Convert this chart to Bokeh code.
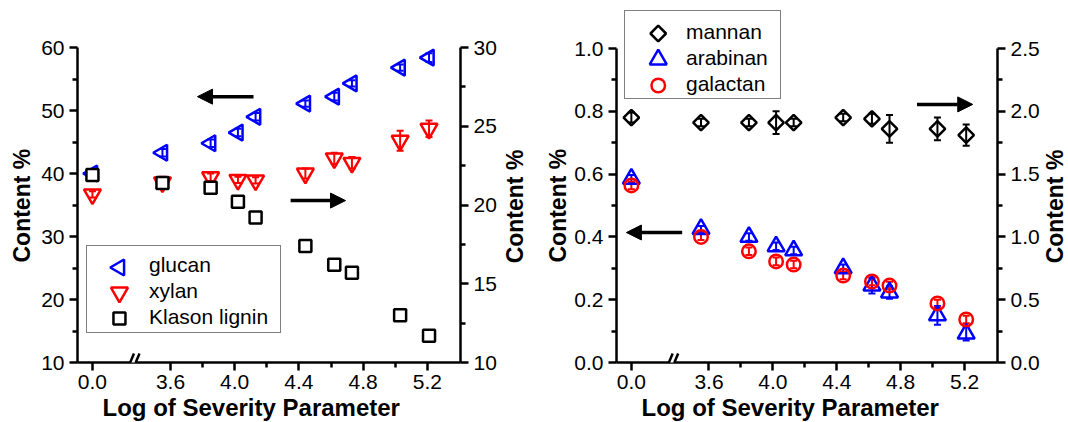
import math
from bokeh.plotting import figure
from bokeh.models import (Range1d, LinearAxis, FixedTicker, ColumnDataSource, Whisker, TeeHead,
                          Arrow, NormalHead, Legend, LegendItem, Title, Label,
                          NumeralTickFormatter)
from bokeh.layouts import row
from bokeh.embed import file_html
from bokeh.resources import INLINE

# ---------------- data ----------------
severity = [0.0, 3.55, 3.85, 4.02, 4.13, 4.44, 4.62, 4.73, 5.03, 5.21]

glucan = [40.0, 43.3, 44.8, 46.5, 49.0, 51.1, 52.2, 54.3, 56.8, 58.4]
glucan_err = [0.5, 0.6, 0.6, 0.6, 0.6, 0.5, 0.6, 0.5, 0.5, 0.7]
xylan = [36.7, 38.6, 39.4, 39.0, 38.9, 40.0, 42.4, 41.7, 45.2, 47.1]
xylan_err = [0.5, 0.9, 0.6, 0.5, 0.5, 0.8, 0.9, 0.9, 1.6, 1.3]
lignin = [21.9, 21.4, 21.1, 20.2, 19.2, 17.4, 16.2, 15.7, 13.0, 11.7]
lignin_err = [0.3, 0.3, 0.3, 0.2, 0.2, 0.2, 0.3, 0.3, 0.3, 0.2]

mannan = [1.95, 1.91, 1.91, 1.91, 1.91, 1.95, 1.94, 1.86, 1.86, 1.81]
mannan_err = [0.04, 0.03, 0.03, 0.09, 0.03, 0.03, 0.04, 0.11, 0.09, 0.085]
arabinan = [0.585, 0.425, 0.400, 0.370, 0.357, 0.300, 0.245, 0.223, 0.150, 0.092]
arabinan_err = [0.012, 0.010, 0.012, 0.012, 0.012, 0.012, 0.025, 0.020, 0.030, 0.022]
galactan = [0.564, 0.400, 0.354, 0.322, 0.312, 0.277, 0.258, 0.245, 0.188, 0.137]
galactan_err = [0.012, 0.010, 0.012, 0.012, 0.012, 0.012, 0.012, 0.012, 0.012, 0.012]

x_tick_values = [0.0, 3.6, 4.0, 4.4, 4.8, 5.2]
x_tick_labels = ["0.0", "3.6", "4.0", "4.4", "4.8", "5.2"]
x_minor = [3.8, 4.2, 4.6, 5.0]

# broken axis: the untreated point (0.0) is drawn left of the break
X0_POS = 3.114
BREAK_POS = 3.369


def to_plot_x(v):
    return X0_POS if v == 0 else v


xp = [to_plot_x(v) for v in severity]
xt = [to_plot_x(v) for v in x_tick_values]

FONT = "Liberation Sans"
BLUE = "#0000ff"
RED = "#ff0000"
BLACK = "#000000"
H = 423
TOP = 10                  # frame top (frames extend above the axes, see bounds)
BOTTOM = 61
FRAME_BOTTOM_PX = H - BOTTOM - 0   # 362
PX_X = 1 / 160.5          # data units per pixel along x


def px_to_x(px, px36):
    return 3.6 + (px - px36) * PX_X


def style_axis(ax, major, minor, fmt=None, overrides=None, standoff=5):
    ax.ticker = FixedTicker(ticks=major, minor_ticks=minor)
    if fmt is not None:
        ax.formatter = fmt
    if overrides is not None:
        ax.major_label_overrides = overrides
    ax.axis_line_width = 2.5
    ax.axis_line_color = BLACK
    ax.major_tick_line_width = 2.5
    ax.minor_tick_line_width = 2.5
    ax.major_tick_in = 0
    ax.major_tick_out = 8
    ax.minor_tick_in = 0
    ax.minor_tick_out = 5
    ax.major_label_text_font = FONT
    ax.major_label_text_font_size = "21px"
    ax.major_label_text_color = BLACK
    ax.major_label_standoff = standoff


def make_fig(width, left, right, y0, y1, ry0, ry1):
    p = figure(width=width, height=H, x_range=Range1d(3.021, 5.406),
               y_range=Range1d(y0, y1), output_backend="svg", toolbar_location=None,
               min_border_left=left, min_border_right=right, min_border_top=TOP,
               min_border_bottom=BOTTOM, x_axis_location=None, y_axis_location=None)
    p.outline_line_color = None
    p.background_fill_color = "white"
    p.border_fill_color = "white"
    p.xgrid.visible = False
    p.ygrid.visible = False
    p.extra_y_ranges = {"right": Range1d(ry0, ry1)}
    return p


def y_title(standoff):
    return Title(text="Content %", align="left", offset=100, standoff=standoff,
                 vertical_align="bottom", text_font=FONT, text_font_size="23px",
                 text_font_style="bold", text_color=BLACK)


def side_title_fig(width, cx, cy):
    """A narrow strip that only carries a rotated 'Content %' title."""
    fh = H - TOP - BOTTOM
    g = figure(width=width, height=H, x_range=Range1d(0, width), y_range=Range1d(0, fh),
               output_backend="svg", toolbar_location=None, min_border_left=0,
               min_border_right=0, min_border_top=TOP, min_border_bottom=BOTTOM,
               x_axis_location=None, y_axis_location=None)
    g.outline_line_color = None
    g.xgrid.visible = False
    g.ygrid.visible = False
    g.add_layout(Label(x=cx, y=(H - BOTTOM) - cy, text="Content %", angle=math.pi / 2,
                       text_align="center", text_baseline="middle", text_font=FONT,
                       text_font_size="23px", text_font_style="bold", text_color=BLACK))
    return g


def add_x_title(p):
    p.add_layout(Title(text="Log of Severity Parameter", align="left", offset=25, standoff=0,
                       text_font=FONT, text_font_size="24px", text_font_style="bold",
                       text_color=BLACK), "below")


def add_whisker(p, x, y, err, color, range_name="default"):
    src = ColumnDataSource(dict(x=x, lower=[a - b for a, b in zip(y, err)],
                                upper=[a + b for a, b in zip(y, err)]))
    w = Whisker(source=src, base="x", lower="lower", upper="upper", dimension="height",
                line_color=color, line_width=2,
                upper_head=TeeHead(size=7, line_width=2, line_color=color),
                lower_head=TeeHead(size=7, line_width=2, line_color=color),
                y_range_name=range_name)
    p.add_layout(w)


def add_break(p, ylo, yhi, yaxis):
    dx = PX_X
    gap = Arrow(end=None, x_start=BREAK_POS - 2 * dx, x_end=BREAK_POS + 2 * dx,
                y_start=yaxis, y_end=yaxis, line_color="white", line_width=5, level="overlay")
    p.add_layout(gap)
    for off in (-3.2 * dx, 2.3 * dx):
        a = Arrow(end=None, x_start=BREAK_POS + off - 3.8 * dx, x_end=BREAK_POS + off + 3.8 * dx,
                  y_start=ylo, y_end=yhi, line_color=BLACK, line_width=2.5, level="overlay")
        p.add_layout(a)


def add_arrow(p, xs, xe, y):
    p.add_layout(Arrow(end=NormalHead(size=15, fill_color=BLACK, line_color=BLACK, line_width=1),
                       x_start=xs, x_end=xe, y_start=y, y_end=y,
                       line_color=BLACK, line_width=3.5))


def add_legend(p, labels, location, pad, glyph_width, label_width):
    items = []
    for lab in labels:
        dummy = p.scatter([float("nan")], [float("nan")], size=1, line_alpha=0, fill_alpha=0)
        items.append(LegendItem(label=lab, renderers=[dummy]))
    leg = Legend(items=items, location=location, margin=0, padding=pad, spacing=0,
                 glyph_width=glyph_width, glyph_height=26, label_standoff=0,
                 label_width=label_width, label_height=21, label_text_font=FONT,
                 label_text_font_size="21px", label_text_color=BLACK,
                 border_line_color=BLACK, border_line_width=1, background_fill_alpha=0)
    p.add_layout(leg)


# ---------------- left panel (x 0..500) ----------------
# axes: left 10..60 (60 at y=47, 6.3 px/unit), right 10..30 (15.75 px/unit)
L_EXT = (47 - TOP) / 6.3
R_EXT = (47 - TOP) / 15.75
p1 = make_fig(500, 77, 40, 10, 60 + L_EXT, 10, 30 + R_EXT)

xa1 = LinearAxis()
style_axis(xa1, xt, x_minor, overrides=dict(zip(xt, x_tick_labels)), standoff=4)
p1.add_layout(xa1, "below")
add_x_title(p1)
ya1 = LinearAxis(bounds=(10, 60))
style_axis(ya1, [10, 20, 30, 40, 50, 60], [15, 25, 35, 45, 55])
p1.add_layout(ya1, "left")
p1.add_layout(y_title(8), "left")
yr1 = LinearAxis(y_range_name="right", bounds=(10, 30))
style_axis(yr1, [10, 15, 20, 25, 30], [12.5, 17.5, 22.5, 27.5])
p1.add_layout(yr1, "right")

glu_style = dict(marker="triangle", angle=math.pi / 2, size=16, line_color=BLUE,
                 line_width=2.5, fill_alpha=0)
xyl_style = dict(marker="inverted_triangle", size=17, line_color=RED, line_width=2.5,
                 fill_alpha=0)
lig_style = dict(marker="square", size=12, line_color=BLACK, line_width=2.5,
                 fill_color="white")
p1.scatter(xp, glucan, **glu_style)
p1.scatter(xp, xylan, **xyl_style)
p1.scatter(xp, lignin, y_range_name="right", **lig_style)
add_whisker(p1, xp, glucan, glucan_err, BLUE)
add_whisker(p1, xp, xylan, xylan_err, RED)
add_whisker(p1, xp, lignin, lignin_err, BLACK, "right")

add_arrow(p1, 4.117, 3.768, 52.2)
add_arrow(p1, 4.348, 4.690, 35.7)
add_break(p1, 8.57, 11.43, 10)

# legend box 86..279 x 247..333 ; keys at x=119, y=267/292/318 (pixels)
kx1 = px_to_x(119, 170)
p1.scatter([kx1], [60 - (267 - 47) / 6.3], **glu_style)
p1.scatter([kx1], [60 - (292 - 47) / 6.3], **xyl_style)
p1.scatter([kx1], [60 - (318 - 47) / 6.3], **lig_style)
add_legend(p1, ["glucan", "xylan", "Klason lignin"], (9, 29),
           dict(left=4, right=4, top=6, bottom=2), 58, 127)

# right-axis title of the left panel (x 500..530)
g1 = side_title_fig(30, 14, 206)

# ---------------- right panel (x 530..1042) ----------------
# axes: left 0..1.0 (1.0 at y=48, 314 px/unit), right 0..2.5
YTOP = (362 - TOP) / 314
p2 = make_fig(512, 86, 43, 0, YTOP, 0, 2.5 * YTOP)

xa2 = LinearAxis()
style_axis(xa2, xt, x_minor, overrides=dict(zip(xt, x_tick_labels)), standoff=4)
p2.add_layout(xa2, "below")
add_x_title(p2)
ya2 = LinearAxis(bounds=(0, 1.0))
style_axis(ya2, [0, 0.2, 0.4, 0.6, 0.8, 1.0], [0.1, 0.3, 0.5, 0.7, 0.9],
           fmt=NumeralTickFormatter(format="0.0"))
p2.add_layout(ya2, "left")
p2.add_layout(y_title(2), "left")
yr2 = LinearAxis(y_range_name="right", bounds=(0, 2.5))
style_axis(yr2, [0, 0.5, 1.0, 1.5, 2.0, 2.5], [0.25, 0.75, 1.25, 1.75, 2.25],
           fmt=NumeralTickFormatter(format="0.0"))
p2.add_layout(yr2, "right")

man_style = dict(marker="square", angle=math.pi / 4, size=11, line_color=BLACK,
                 line_width=2.5, fill_alpha=0)
ara_style = dict(marker="triangle", size=17, line_color=BLUE, line_width=2.5, fill_alpha=0)
gal_style = dict(marker="circle", size=13.5, line_color=RED, line_width=2.5, fill_alpha=0)
p2.scatter(xp, mannan, y_range_name="right", **man_style)
p2.scatter(xp, arabinan, **ara_style)
p2.scatter(xp, galactan, **gal_style)
add_whisker(p2, xp, mannan, mannan_err, BLACK, "right")
add_whisker(p2, xp, arabinan, arabinan_err, BLUE)
add_whisker(p2, xp, galactan, galactan_err, RED)

add_arrow(p2, 3.432, 3.083, 0.414)
add_arrow(p2, 4.902, 5.251, 0.822)
add_break(p2, -0.0287, 0.0287, 0)

# legend box 624..779 x 12..99 ; keys at x=658, y=33/59/85 (pixels)
kx2 = px_to_x(658, 709)
p2.scatter([kx2], [(362 - 33) / 314], **man_style)
p2.scatter([kx2], [(362 - 59) / 314], **ara_style)
p2.scatter([kx2], [(362 - 85) / 314], **gal_style)
add_legend(p2, ["mannan", "arabinan", "galactan"], (8, 263),
           dict(left=4, right=4, top=8, bottom=1), 57, 90)

# right-axis title of the right panel (x 1042..1068)
g2 = side_title_fig(26, 12, 206)

layout = row(p1, g1, p2, g2)
open("out.html", "w").write(file_html(layout, INLINE))
